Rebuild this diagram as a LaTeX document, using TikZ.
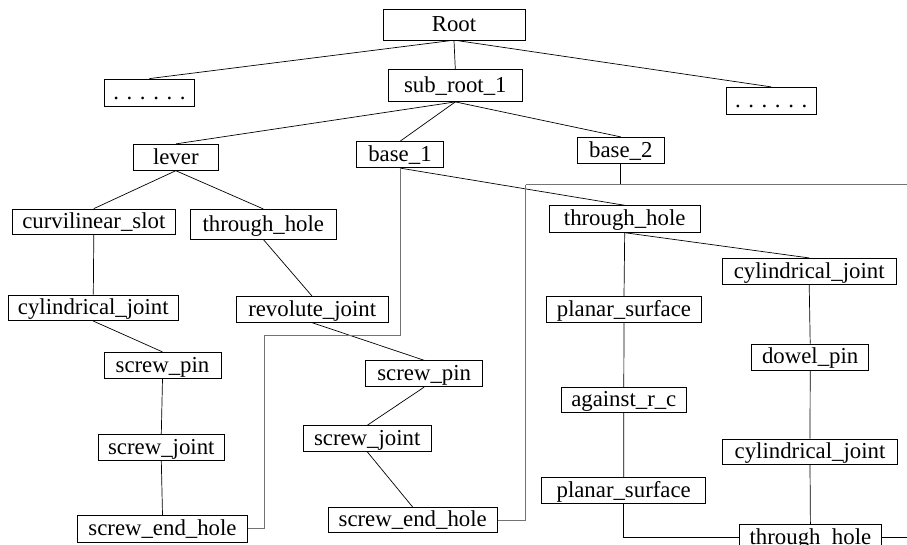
\documentclass[tikz,border=0pt]{standalone}
\usepackage{fontspec}
\setmainfont{Liberation Serif}
\begin{document}
\begin{tikzpicture}[x=1pt,y=-1pt,
  box/.style={draw=black, line width=0.8pt, rectangle, inner sep=0pt,
    text height=17.1pt, text depth=3.4pt,
    font=\fontsize{22.8}{27}\selectfont},
  link/.style={draw=black, line width=0.7pt},
  route/.style={draw=black!55, line width=0.7pt}]
\useasboundingbox (0,0) rectangle (907,545);
\clip (0,0) rectangle (907,545);

% top levels
\node[box, minimum width=142pt, minimum height=31pt] (root) at (454,24.8) {Root};
\node[box, minimum width=89.6pt, minimum height=27pt] (dotsL) at (149.5,92.5) {. . . . . .};
\node[box, minimum width=134pt, minimum height=32pt] (subroot) at (455.3,85.5) {sub\_root\_1};
\node[box, minimum width=89.7pt, minimum height=27pt] (dotsR) at (771.2,100.8) {. . . . . .};
\node[box, minimum width=85pt, minimum height=26pt] (lever) at (175.8,157.3) {lever};
\node[box, minimum width=86.6pt, minimum height=26pt] (base1) at (400,154.7) {base\_1};
\node[box, minimum width=87pt, minimum height=26pt] (base2) at (620.8,150.3) {base\_2};

% lever branch
\node[box, minimum width=162.3pt, minimum height=25.5pt] (curv) at (93.8,221.8) {curvilinear\_slot};
\node[box, minimum width=145.3pt, minimum height=29.7pt] (thL) at (263.3,224.2) {through\_hole};
\node[box, minimum width=170pt, minimum height=25.7pt] (cylL) at (93.3,307.8) {cylindrical\_joint};
\node[box, minimum width=152.3pt, minimum height=25.6pt] (rev) at (312.2,309.5) {revolute\_joint};
\node[box, minimum width=117pt, minimum height=26pt] (spL) at (162.5,365.3) {screw\_pin};
\node[box, minimum width=126pt, minimum height=25.7pt] (sjL) at (161.3,447.2) {screw\_joint};
\node[box, minimum width=169.6pt, minimum height=27pt] (sehL) at (162.5,528.8) {screw\_end\_hole};
\node[box, minimum width=117pt, minimum height=26pt] (spM) at (424.2,373.7) {screw\_pin};
\node[box, minimum width=127.7pt, minimum height=25.6pt] (sjM) at (367.2,438.5) {screw\_joint};
\node[box, minimum width=169.3pt, minimum height=25pt] (sehM) at (412.7,520) {screw\_end\_hole};

% base branch
\node[box, minimum width=150.7pt, minimum height=26.6pt] (thR) at (624.7,219) {through\_hole};
\node[box, minimum width=173.7pt, minimum height=25.7pt] (cylR1) at (809.2,271.2) {cylindrical\_joint};
\node[box, minimum width=155.4pt, minimum height=25.6pt] (psR1) at (624,309.5) {planar\_surface};
\node[box, minimum width=117pt, minimum height=26pt] (dowel) at (810.2,357) {dowel\_pin};
\node[box, minimum width=125.7pt, minimum height=25.4pt] (against) at (623.8,400) {against\_r\_c};
\node[box, minimum width=175.4pt, minimum height=25.3pt] (cylR2) at (810,451.7) {cylindrical\_joint};
\node[box, minimum width=164pt, minimum height=26pt] (psR2) at (623.7,490.3) {planar\_surface};
\node[box, minimum width=142.2pt, minimum height=26.6pt] (thB) at (810.4,537.6) {through\_hole};

% free ends and bends of the routed connectors
\coordinate (bendA) at (400,335);
\coordinate (bendB) at (264.3,335);
\coordinate (hbarL) at (525.7,184.7);
\coordinate (hbarR) at (907,184.7);
\coordinate (tailR) at (907,537.6);

% tree edges
\draw[link] ([xshift=-4pt]root.south) -- (dotsL.north);
\draw[link] (root.south) -- (subroot.north);
\draw[link] ([xshift=4pt]root.south) -- (dotsR.north);
\draw[link] (subroot.south) -- (lever.north);
\draw[link] (subroot.south) -- (base1.north);
\draw[link] (subroot.south) -- (base2.north);
\draw[link] (lever.south) -- (curv.north);
\draw[link] (lever.south) -- (thL.north);
\draw[link] (curv.south) -- (cylL.north);
\draw[link] (thL.south) -- (rev.north);
\draw[link] (cylL.south) -- (spL.north);
\draw[link] (rev.south) -- (spM.north);
\draw[link] (spL.south) -- (sjL.north);
\draw[link] (sjL.south) -- (sehL.north);
\draw[link] (spM.south) -- (sjM.north);
\draw[link] (sjM.south) -- (sehM.north);
\draw[link] (base1.south) -- (thR.north);
\draw[link] (thR.south) -- (psR1.north);
\draw[link] (thR.south) -- (cylR1.north);
\draw[link] (cylR1.south) -- (dowel.north);
\draw[link] (dowel.south) -- (cylR2.north);
\draw[link] (cylR2.south) -- (thB.north);
\draw[link] (psR1.south) -- (against.north);
\draw[link] (against.south) -- (psR2.north);
\draw[link] (psR2.south) |- (thB.west);
\draw[link] (thB.east) -- (tailR);

% routed connectors
\draw[route] (base1.south) -- (bendA) -- (bendB) |- (sehL.east);
\draw[link] (base2.south) -- (base2.south |- hbarL);
\draw[route] (hbarL) -- (hbarR);
\draw[route] (hbarL) |- (sehM.east);
\end{tikzpicture}
\end{document}
